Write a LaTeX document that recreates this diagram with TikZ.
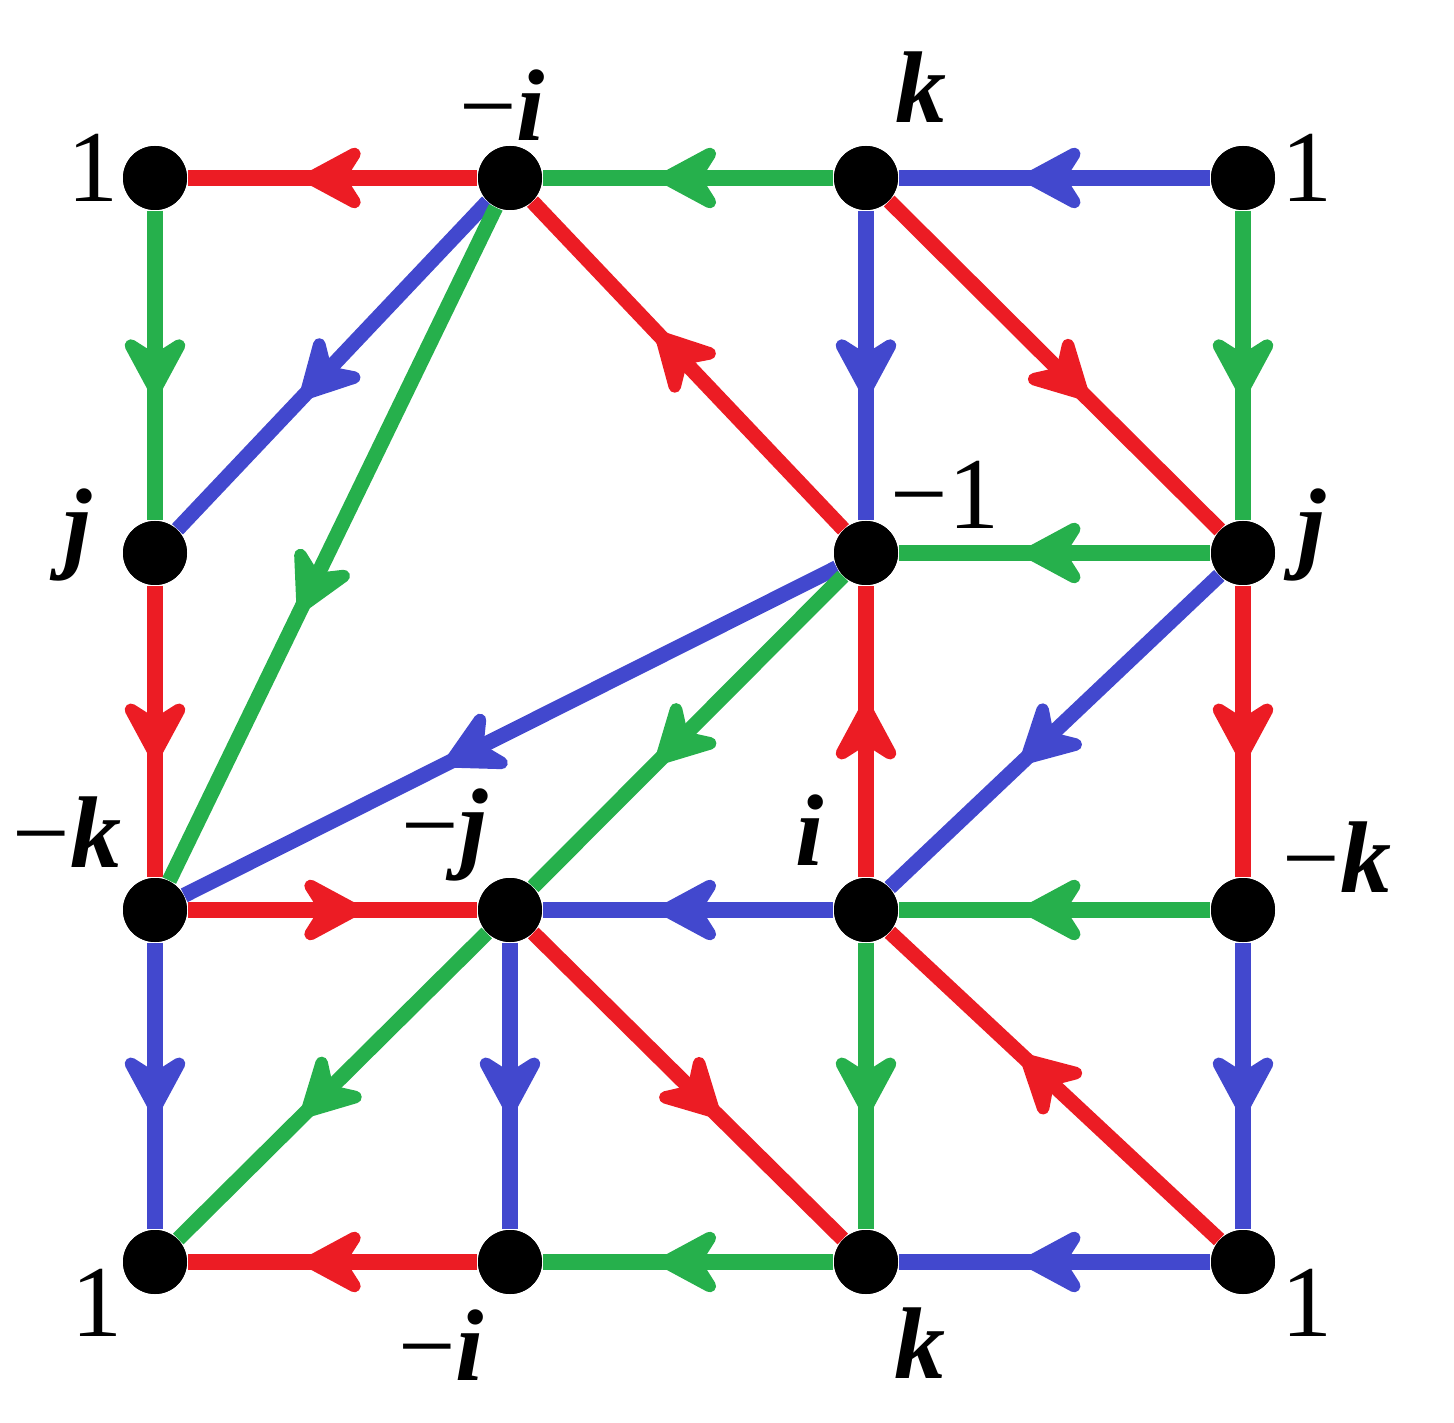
\documentclass[tikz,border=0pt]{standalone}
\usepackage{fontspec}
\setmainfont{Liberation Serif}
\usetikzlibrary{arrows.meta,decorations.markings}

\definecolor{qred}{RGB}{236,28,36}
\definecolor{qgreen}{RGB}{38,176,76}
\definecolor{qblue}{RGB}{66,72,206}

\newcommand{\qv}[1]{\textbf{\textit{#1}}}

\tikzset{
  dot/.style={shape=circle,fill=black,inner sep=0pt,minimum size=6.4mm},
  lab/.style={inner sep=0pt,font=\fontsize{29}{32}\selectfont},
  edge/.style={line width=4.3pt,postaction={decorate},
    decoration={markings,mark=at position 0.6 with
      {\arrow{Stealth[length=7.5mm,width=8mm,inset=2.5mm,round]}}}}
}

\begin{document}
\begin{tikzpicture}
    \useasboundingbox (0,0) rectangle (14.54,14.22);
    % the points of the grid
    \node[dot] (one1) at (1.55,12.44) {};
    \node[dot] (mi1)  at (5.10,12.44) {};
    \node[dot] (k1)   at (8.66,12.44) {};
    \node[dot] (one2) at (12.43,12.44) {};
    \node[dot] (j1)   at (1.55,8.69) {};
    \node[dot] (mone) at (8.66,8.69) {};
    \node[dot] (j2)   at (12.43,8.69) {};
    \node[dot] (mk1)  at (1.55,5.12) {};
    \node[dot] (mj)   at (5.10,5.12) {};
    \node[dot] (i)    at (8.66,5.12) {};
    \node[dot] (mk2)  at (12.43,5.12) {};
    \node[dot] (one3) at (1.55,1.60) {};
    \node[dot] (mi2)  at (5.10,1.60) {};
    \node[dot] (k2)   at (8.66,1.60) {};
    \node[dot] (one4) at (12.43,1.60) {};
    % edges
    \foreach \a/\b/\c in {mi1/one1/qred, k1/mi1/qgreen, one2/k1/qblue,
        one1/j1/qgreen, j1/mk1/qred, mk1/one3/qblue,
        one2/j2/qgreen, j2/mk2/qred, mk2/one4/qblue,
        mi2/one3/qred, k2/mi2/qgreen, one4/k2/qblue,
        mi1/j1/qblue, mi1/mk1/qgreen, mone/mi1/qred,
        k1/mone/qblue, k1/j2/qred, j2/mone/qgreen,
        mone/mk1/qblue, mone/mj/qgreen, i/mone/qred,
        j2/i/qblue, mk1/mj/qred, i/mj/qblue, mk2/i/qgreen,
        mj/one3/qgreen, mj/mi2/qblue, mj/k2/qred,
        i/k2/qgreen, one4/i/qred}
      \draw[edge,\c] (\a) -- (\b);
    % redraw the points on top
    \foreach \p in {one1,mi1,k1,one2,j1,mone,j2,mk1,mj,i,mk2,one3,mi2,k2,one4}
      \fill (\p) circle (3.2mm);
    % labels
    \node[lab] (lone1) at (0.93,12.54) {1};
    \node[lab] (lmi1)  at (5.02,13.17) {−\qv{i}};
    \node[lab] (lk1)   at (9.21,13.35) {\qv{k}};
    \node[lab] (lone2) at (13.07,12.54) {1};
    \node[lab] (lj1)   at (0.78,8.87) {\qv{j}};
    \node[lab] (lmone) at (9.45,9.27) {−1};
    \node[lab] (lj2)   at (13.12,8.87) {\qv{j}};
    \node[lab] (lmk1)  at (0.67,5.90) {−\qv{k}};
    \node[lab] (lmj)   at (4.45,5.87) {−\qv{j}};
    \node[lab] (li)    at (8.10,5.92) {\qv{i}};
    \node[lab] (lmk2)  at (13.37,5.65) {−\qv{k}};
    \node[lab] (lone3) at (0.97,1.19) {1};
    \node[lab] (lmi2)  at (4.41,0.77) {−\qv{i}};
    \node[lab] (lk2)   at (9.20,0.79) {\qv{k}};
    \node[lab] (lone4) at (13.07,1.19) {1};
\end{tikzpicture}
\end{document}
